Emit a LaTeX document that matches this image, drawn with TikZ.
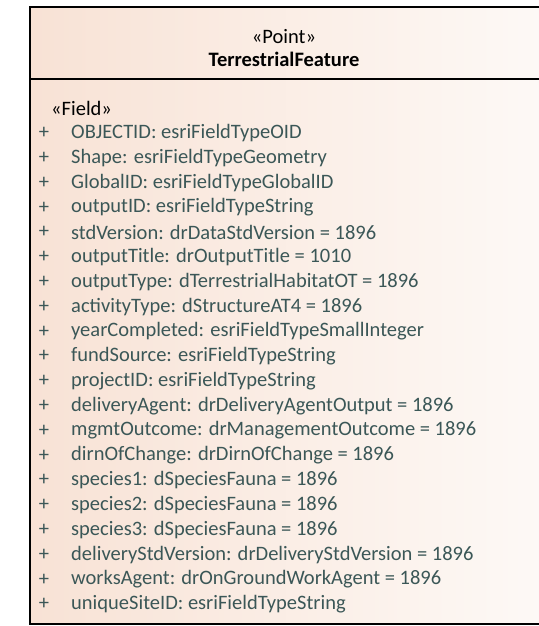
\documentclass[tikz,border=0pt]{standalone}
\usepackage{fontspec}
\setmainfont{Carlito}
\definecolor{peach}{HTML}{F8E2D5}
\definecolor{paper}{HTML}{FDF9F6}
\definecolor{fieldtext}{HTML}{3B5757}
\tikzset{
  fieldrow/.style={anchor=west, inner sep=0pt, text=fieldtext, font=\fontsize{20.5}{22}\selectfont},
  plus/.style={anchor=center, inner sep=0pt, text=fieldtext, font=\fontsize{20.5}{22}\selectfont}
}
\begin{document}
\begin{tikzpicture}[x=1pt, y=-1pt]
  \useasboundingbox (0, 0) rectangle (538, 626);
  \shade [left color=peach, right color=paper] (30, 7) rectangle (541, 624);
  \draw [line width=1.4pt] (30, 7) rectangle (541, 624);
  \node (stereo) at (284, 37) {\fontsize{20.5}{22}\selectfont «Point»};
  \node (title) at (284, 59) {\fontsize{20.5}{22}\selectfont\bfseries TerrestrialFeature};
  \draw [line width=1.4pt] (30, 79) -- (541, 79);

  \node [anchor=west, inner sep=0pt, font=\fontsize{20.5}{22}\selectfont] (field) at (51, 108) {«Field»};
  \foreach \row [count=\i from 0] in {
      {OBJECTID: esriFieldTypeOID},
      {Shape: esriFieldTypeGeometry},
      {GlobalID: esriFieldTypeGlobalID},
      {outputID: esriFieldTypeString},
      {stdVersion: drDataStdVersion = 1896},
      {outputTitle: drOutputTitle = 1010},
      {outputType: dTerrestrialHabitatOT = 1896},
      {activityType: dStructureAT4 = 1896},
      {yearCompleted: esriFieldTypeSmallInteger},
      {fundSource: esriFieldTypeString},
      {projectID: esriFieldTypeString},
      {deliveryAgent: drDeliveryAgentOutput = 1896},
      {mgmtOutcome: drManagementOutcome = 1896},
      {dirnOfChange: drDirnOfChange = 1896},
      {species1: dSpeciesFauna = 1896},
      {species2: dSpeciesFauna = 1896},
      {species3: dSpeciesFauna = 1896},
      {deliveryStdVersion: drDeliveryStdVersion = 1896},
      {worksAgent: drOnGroundWorkAgent = 1896},
      {uniqueSiteID: esriFieldTypeString}} {
    \node [plus] (p\i) at (44, 133 + 24.8*\i) {+};
    \node [fieldrow] (f\i) at (71, 133 + 24.8*\i) {\row};
  }
\end{tikzpicture}
\end{document}
